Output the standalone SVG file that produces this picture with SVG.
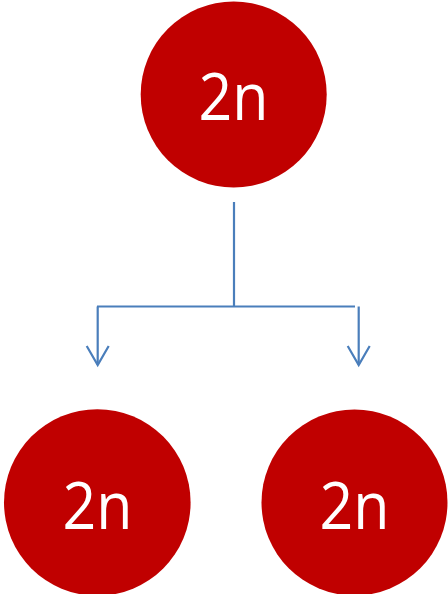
<svg xmlns="http://www.w3.org/2000/svg" width="448" height="594" viewBox="0 0 448 594">
<style>
.node circle{fill:#C00000}
.node text{fill:#fff;font-family:"Open Sans","Noto Sans",sans-serif;font-size:66px;text-anchor:middle}
.conn{stroke:#4A7EBB;stroke-width:2.2;fill:none}
</style>
<defs>
<marker id="arr" markerUnits="userSpaceOnUse" markerWidth="26" markerHeight="26" refX="21" refY="13" orient="auto" viewBox="0 0 26 26">
<path d="M2,2 L21,13 L2,24" fill="none" stroke="#4A7EBB" stroke-width="2.2"/>
</marker>
</defs>
<g id="connectors" class="conn">
<path d="M234,202 V306.5"/>
<path d="M97,306.5 H355"/>
<path d="M97.7,306.5 V365" marker-end="url(#arr)"/>
<path d="M358.7,306.5 V365" marker-end="url(#arr)"/>
</g>
<g id="top" class="node">
<circle cx="233.7" cy="94.5" r="93"/>
<text x="233.5" y="120" textLength="70" lengthAdjust="spacingAndGlyphs">2n</text>
</g>
<g id="left" class="node">
<circle cx="97.3" cy="502.5" r="93.3"/>
<text x="97.5" y="529" textLength="70" lengthAdjust="spacingAndGlyphs">2n</text>
</g>
<g id="right" class="node">
<circle cx="354.5" cy="502.5" r="93"/>
<text x="354.5" y="529" textLength="70" lengthAdjust="spacingAndGlyphs">2n</text>
</g>
</svg>
